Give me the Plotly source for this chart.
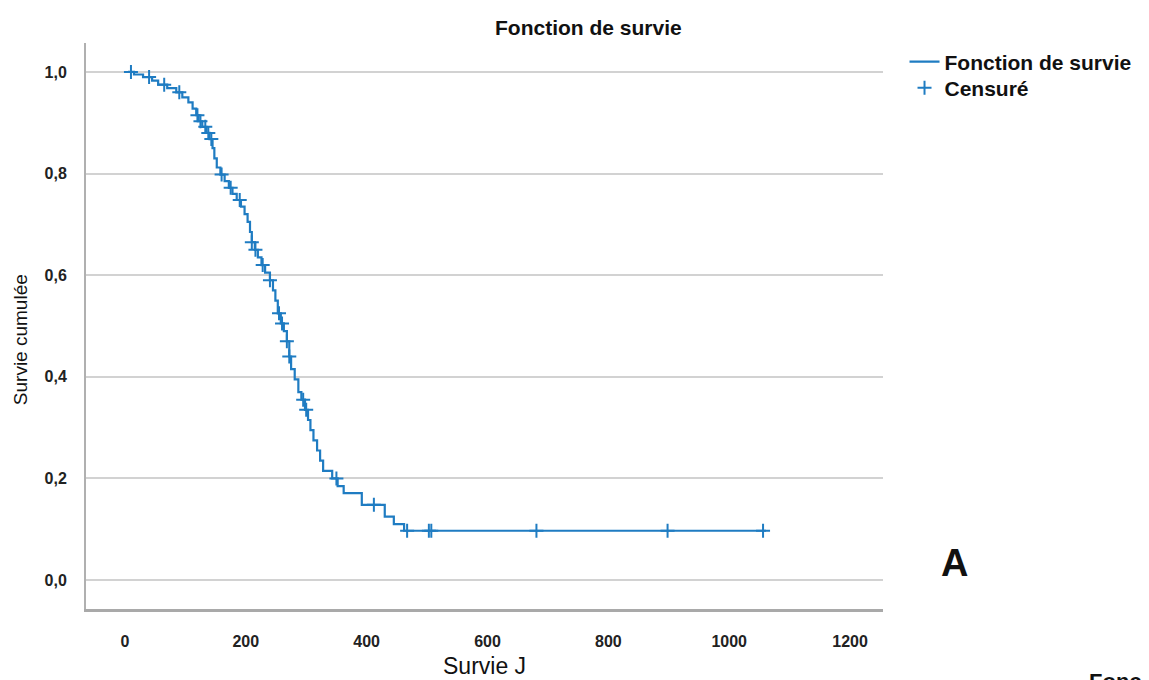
import plotly.graph_objects as go
import bisect

# Kaplan-Meier step data
event_times = [5, 15, 30, 45, 55, 70, 85, 95, 105, 112, 118, 122, 128, 135, 140, 145, 148, 152,
               158, 165, 172, 178, 185, 192, 198, 203, 207, 210, 215, 220, 226, 232, 240, 245,
               249, 253, 258, 263, 268, 272, 275, 281, 287, 292, 298, 303, 307, 312, 318, 323,
               328, 343, 352, 362, 392, 430, 445, 462, 1061]
survival = [1.0, 0.995, 0.99, 0.983, 0.975, 0.968, 0.96, 0.95, 0.94, 0.928, 0.915, 0.903, 0.892,
            0.88, 0.868, 0.85, 0.83, 0.812, 0.798, 0.785, 0.772, 0.76, 0.748, 0.735, 0.72, 0.705,
            0.685, 0.665, 0.65, 0.635, 0.62, 0.605, 0.59, 0.57, 0.55, 0.525, 0.505, 0.49, 0.47,
            0.44, 0.415, 0.395, 0.37, 0.355, 0.335, 0.315, 0.295, 0.275, 0.255, 0.235, 0.215,
            0.2, 0.185, 0.171, 0.148, 0.125, 0.11, 0.097, 0.097]
censored_times = [10, 40, 65, 90, 120, 125, 133, 138, 143, 160, 175, 190, 210, 216, 228, 240,
                  255, 260, 268, 272, 295, 300, 350, 412, 467, 503, 507, 681, 898, 1056]

x_ticks = [0, 200, 400, 600, 800, 1000, 1200]
y_ticks = [0.0, 0.2, 0.4, 0.6, 0.8, 1.0]
y_ticktext = ["0,0", "0,2", "0,4", "0,6", "0,8", "1,0"]


def surv_at(t):
    i = bisect.bisect_right(event_times, t) - 1
    return survival[max(i, 0)]


censored_surv = [surv_at(t) for t in censored_times]

BLUE = "#1f7cc2"
FONT = "Liberation Sans, Arial, sans-serif"
fig = go.Figure()
fig.add_trace(go.Scatter(x=event_times, y=survival, mode="lines", line=dict(color=BLUE, width=2.2, shape="hv"),
                         name="Fonction de survie", legend="legend"))
fig.add_trace(go.Scatter(x=censored_times, y=censored_surv, mode="markers",
                         marker=dict(symbol="cross-thin-open", size=10, line=dict(color=BLUE, width=2), color=BLUE),
                         name="Censuré", legend="legend2"))

tickfont = dict(family=FONT, size=16, color="#222222", weight="bold")
legfont = dict(size=21, family=FONT, weight="bold", color="#111111")

fig.update_layout(
    width=1149, height=680,
    margin=dict(l=86, r=264, t=43, b=71),
    paper_bgcolor="white", plot_bgcolor="white",
    font=dict(family=FONT, color="#111111"),
    showlegend=True,
    legend=dict(x=1.027, y=(609 - 62) / 566, xanchor="left", yanchor="middle", font=legfont,
                itemwidth=30, bgcolor="rgba(0,0,0,0)"),
    legend2=dict(x=1.027, y=(609 - 88) / 566, xanchor="left", yanchor="middle", font=legfont,
                 itemwidth=30, bgcolor="rgba(0,0,0,0)"),
    xaxis=dict(range=[-64.4, 1254.5], tickvals=x_ticks, ticktext=[str(v) for v in x_ticks], showgrid=False,
               zeroline=False, showline=True, linecolor="#a9a9a9", linewidth=3, ticks="",
               ticklabelstandoff=16, tickfont=tickfont),
    yaxis=dict(range=[-0.057, 1.057], tickvals=y_ticks, ticktext=y_ticktext, showgrid=True,
               gridcolor="#d2d2d2", gridwidth=1.5, zeroline=False, showline=True, linecolor="#b0b0b0",
               linewidth=2, ticks="", ticklabelstandoff=14, tickfont=tickfont),
    annotations=[
        dict(text="Fonction de survie", x=590, y=27, showarrow=False,
             font=dict(size=21, weight="bold", color="#111111")),
        dict(text="Survie cumulée", x=20, y=340, textangle=-90, showarrow=False,
             font=dict(size=19, color="#111111")),
        dict(text="Survie J", x=486, y=666, showarrow=False,
             font=dict(size=23, color="#111111")),
        dict(text="A", x=957, y=563, showarrow=False,
             font=dict(size=38, weight="bold", color="#111111")),
        dict(text="Fonc", x=1090, y=667, xanchor="left", yanchor="top", showarrow=False,
             font=dict(size=22, weight="bold", color="#111111")),
    ],
)

# convert pixel-based annotation positions to paper coords
pl, pr, pt, pb = 86, 1149 - 264, 43, 680 - 71
for a in fig.layout.annotations:
    a.xref = "paper"
    a.yref = "paper"
    if a.xanchor is None:
        a.xanchor = "center"
    if a.yanchor is None:
        a.yanchor = "middle"
    px, py = a.x, a.y
    a.x = (px - pl) / (pr - pl)
    a.y = (pb - py) / (pb - pt)

fig.write_html("out.html")
